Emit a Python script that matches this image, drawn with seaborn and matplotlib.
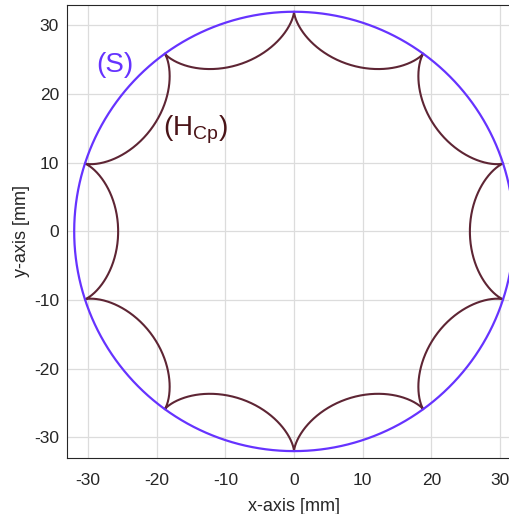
import numpy as np
import pandas as pd
import matplotlib
matplotlib.use("Agg")
import matplotlib.pyplot as plt
import seaborn as sns

# Parameters of the drawn shapes
circle_radius = 32.0          # (S) circle radius [mm]
n_cusps = 10                  # number of cusps of (H_Cp)
rolling_radius = circle_radius / n_cusps  # rolling circle radius [mm]
cusp_rotation_deg = 18.0      # first cusp angle [deg]

ticks = [-30, -20, -10, 0, 10, 20, 30]
tick_labels = ["-30", "-20", "-10", "0", "10", "20", "30"]

# Build curves
t = np.linspace(0, 2 * np.pi, 2001)
circ = pd.DataFrame({"x": circle_radius * np.cos(t), "y": circle_radius * np.sin(t)})

R, r = circle_radius, rolling_radius
hx = (R - r) * np.cos(t) + r * np.cos((R - r) / r * t)
hy = (R - r) * np.sin(t) - r * np.sin((R - r) / r * t)
a = np.deg2rad(cusp_rotation_deg)
hyp = pd.DataFrame({"x": hx * np.cos(a) - hy * np.sin(a),
                    "y": hx * np.sin(a) + hy * np.cos(a)})

sns.set_style("white")
plt.rcParams["font.family"] = ["Liberation Sans", "DejaVu Sans"]

fig = plt.figure(figsize=(5.10, 5.14), dpi=100)
ax = fig.add_axes([0.132, 0.109, 0.889, 0.8815])

sns.lineplot(data=hyp, x="x", y="y", sort=False, estimator=None, color="#5E2534", lw=1.5, ax=ax)
sns.lineplot(data=circ, x="x", y="y", sort=False, estimator=None, color="#6633FF", lw=1.6, ax=ax)

ax.set_xlim(-33, 33)
ax.set_ylim(-33, 33)
ax.set_xticks(ticks)
ax.set_xticklabels(tick_labels)
ax.set_yticks(ticks)
ax.set_yticklabels(tick_labels)
ax.grid(True, color="#DCDCDC", lw=0.9)
ax.set_axisbelow(True)
ax.tick_params(direction="in", length=4, width=0.8, colors="#262626", labelsize=12.5)
ax.tick_params(axis="x", pad=11)
ax.tick_params(axis="y", pad=6)
for s in ax.spines.values():
    s.set_color("#262626")
    s.set_linewidth(0.8)
ax.spines["right"].set_visible(False)
ax.set_xlabel("x-axis [mm]", fontsize=13, color="#262626", labelpad=7)
ax.set_ylabel("y-axis [mm]", fontsize=13, color="#262626", labelpad=3)

ax.text(-26.1, 24.3, "(S)", color="#6633FF", fontsize=20, ha="center", va="center")
ax.text(-14.3, 14.8, r"(H$_{\mathregular{Cp}}$)", color="#4A1418", fontsize=20, ha="center", va="center")

fig.savefig("out.png", dpi=100)
